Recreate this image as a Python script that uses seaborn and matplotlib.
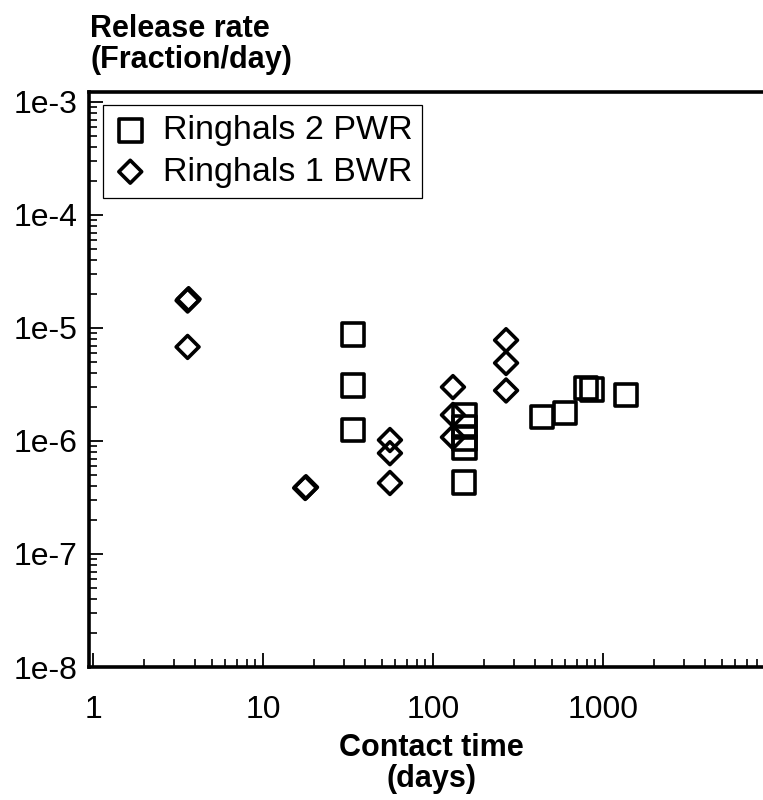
import numpy as np
import pandas as pd
import seaborn as sns
import matplotlib
matplotlib.use('Agg')
import matplotlib.pyplot as plt
from matplotlib.ticker import FixedLocator, FixedFormatter, LogLocator, NullFormatter

# values
pwr_time = [33.8, 33.8, 33.8, 154, 154, 154, 154, 152, 438, 597, 795, 861, 1366]
pwr_rate = [8.7e-6, 3.1e-6, 1.25e-6, 1.7e-6, 1.33e-6, 1.06e-6, 8.7e-7, 4.3e-7,
            1.63e-6, 1.77e-6, 2.94e-6, 2.85e-6, 2.55e-6]
bwr_time = [3.6, 3.65, 3.6, 17.7, 17.9, 55.8, 55.8, 55.8, 131, 131, 131, 269, 269, 269]
bwr_rate = [1.75e-5, 1.8e-5, 6.8e-6, 3.84e-7, 3.9e-7, 1.02e-6, 7.8e-7, 4.25e-7,
            3.0e-6, 1.7e-6, 1.08e-6, 7.8e-6, 4.9e-6, 2.8e-6]
series_names = ['Ringhals 2 PWR', 'Ringhals 1 BWR']

x_tick_values = [1, 10, 100, 1000]
x_tick_labels = ['1', '10', '100', '1000']
y_tick_values = [1e-8, 1e-7, 1e-6, 1e-5, 1e-4, 1e-3]
y_tick_labels = ['1e-8', '1e-7', '1e-6', '1e-5', '1e-4', '1e-3']

pwr = pd.DataFrame({'time': pwr_time, 'rate': pwr_rate, 'series': series_names[0]})
bwr = pd.DataFrame({'time': bwr_time, 'rate': bwr_rate, 'series': series_names[1]})

sns.set_style('white')
plt.rcParams['font.family'] = ['Liberation Sans', 'DejaVu Sans']
plt.rcParams['text.color'] = 'black'
plt.rcParams['axes.labelcolor'] = 'black'
plt.rcParams['xtick.color'] = 'black'
plt.rcParams['ytick.color'] = 'black'

fig = plt.figure(figsize=(7.63, 8.0), dpi=100)
ax = fig.add_axes([89/763, 133/800, 684/763, 575/800])

sns.scatterplot(data=pwr, x='time', y='rate', marker='s', s=270,
                facecolor='none', edgecolor='black', linewidth=2.6,
                label=series_names[0], ax=ax)
sns.scatterplot(data=bwr, x='time', y='rate', marker='D', s=135,
                facecolor='none', edgecolor='black', linewidth=2.6,
                label=series_names[1], ax=ax)

ax.set_xscale('log')
ax.set_yscale('log')
ax.set_xlim(0.947, 10000)
ax.set_ylim(1e-8, 1.226e-3)

ax.xaxis.set_major_locator(FixedLocator(x_tick_values))
ax.xaxis.set_major_formatter(FixedFormatter(x_tick_labels))
ax.yaxis.set_major_locator(FixedLocator(y_tick_values))
ax.yaxis.set_major_formatter(FixedFormatter(y_tick_labels))
ax.xaxis.set_minor_locator(LogLocator(base=10, subs=np.arange(2, 10), numticks=20))
ax.yaxis.set_minor_locator(LogLocator(base=10, subs=np.arange(2, 10), numticks=20))
ax.xaxis.set_minor_formatter(NullFormatter())
ax.yaxis.set_minor_formatter(NullFormatter())

ax.tick_params(which='both', direction='in', bottom=True, left=True,
               top=False, right=False, colors='black')
ax.tick_params(axis='x', which='major', length=10, width=1.3, pad=20, labelsize=23)
ax.tick_params(axis='y', which='major', length=10, width=1.3, pad=8, labelsize=23)
ax.tick_params(which='minor', length=6, width=1.2)

for sp in ax.spines.values():
    sp.set_color('black')
    sp.set_linewidth(2.6)

ax.set_xlabel('Contact time\n(days)', fontsize=22, fontweight='bold', labelpad=6,
              linespacing=1.05)
ax.set_ylabel('')
fig.text(90/763, 1 - 14/800, 'Release rate\n(Fraction/day)', fontsize=22,
         fontweight='bold', ha='left', va='top', linespacing=1.05)

leg = ax.legend(loc='upper left', bbox_to_anchor=(0.0205, 0.977), borderaxespad=0,
                frameon=True, fancybox=False, edgecolor='black', framealpha=1,
                fontsize=24.5, handletextpad=0.45, labelspacing=0.3, borderpad=0.3,
                handlelength=1.0)
leg.get_frame().set_linewidth(0.9)

fig.savefig('out.png', dpi=100)
